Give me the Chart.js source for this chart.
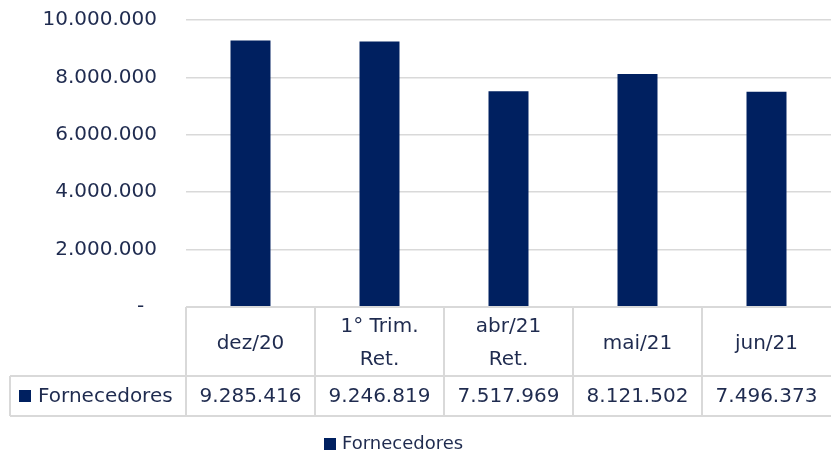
<!DOCTYPE html>
<html>
<head>
<meta charset="utf-8">
<script src="https://cdn.jsdelivr.net/npm/chart.js@4.4.1/dist/chart.umd.min.js"></script>
<style>
  html, body { margin: 0; padding: 0; background: #fff; }
  canvas { display: block; }
</style>
</head>
<body>
<canvas id="chart" width="831" height="452"></canvas>
<script>
// data
const categories = [['dez/20'], ['1° Trim.', 'Ret.'], ['abr/21', 'Ret.'], ['mai/21'], ['jun/21']];
const seriesName = 'Fornecedores';
const fornecedores = [9285416, 9246819, 7517969, 8121502, 7496373];
const yTicks = [0, 2000000, 4000000, 6000000, 8000000, 10000000];

const barColor = '#002060';
const textColor = '#1f2b4f';
const lineColor = '#d9d9d9';
const fontFamily = 'DejaVu Sans';

// 9285416 -> 9.285.416, zero shown as a dash like Excel
function formatNumber(v) {
    if (v === 0) return '-  ';
    return String(v).replace(/\B(?=(\d{3})+(?!\d))/g, '.');
}

// Draws the data table under the plot and the legend at the bottom
const dataTable = {
    id: 'dataTable',
    afterDraw(chart) {
        const ctx = chart.ctx;
        const area = chart.chartArea;
        const xScale = chart.scales.x;
        const colW = (area.right - area.left) / categories.length;

        const headTop = area.bottom;
        const headBottom = headTop + 69;
        const rowBottom = headBottom + 40;
        const tableLeft = 10;

        ctx.save();
        ctx.strokeStyle = lineColor;
        ctx.lineWidth = 2;
        ctx.beginPath();
        // horizontal lines
        ctx.moveTo(area.left, headTop); ctx.lineTo(area.right, headTop);
        ctx.moveTo(tableLeft, headBottom); ctx.lineTo(area.right, headBottom);
        ctx.moveTo(tableLeft, rowBottom); ctx.lineTo(area.right, rowBottom);
        // vertical lines (the right edge is cut off in the original)
        ctx.moveTo(tableLeft, headBottom); ctx.lineTo(tableLeft, rowBottom);
        for (let i = 0; i < categories.length; i++) {
            const x = area.left + i * colW;
            ctx.moveTo(x, headTop); ctx.lineTo(x, rowBottom);
        }
        ctx.stroke();

        ctx.fillStyle = textColor;
        ctx.textAlign = 'center';
        ctx.textBaseline = 'middle';
        ctx.font = '20px "' + fontFamily + '"';

        const headMid = (headTop + headBottom) / 2 + 2;
        const rowMid = (headBottom + rowBottom) / 2 + 1;
        const lineGap = 33;

        categories.forEach((lines, i) => {
            const cx = xScale.getPixelForValue(i);
            const y0 = headMid - (lines.length - 1) * lineGap / 2;
            lines.forEach((line, j) => {
                ctx.fillText(line, cx, y0 + j * lineGap);
            });
            ctx.fillText(formatNumber(fornecedores[i]), cx, rowMid);
        });

        // series key in the table
        ctx.fillStyle = barColor;
        ctx.fillRect(19, rowMid - 7, 12, 12);
        ctx.fillStyle = textColor;
        ctx.textAlign = 'left';
        ctx.fillText(seriesName, 38, rowMid);

        // legend
        ctx.fillStyle = barColor;
        ctx.fillRect(324, 438, 12, 12);
        ctx.fillStyle = textColor;
        ctx.font = '18px "' + fontFamily + '"';
        ctx.fillText(seriesName, 342, 444);
        ctx.restore();
    }
};

const ctx = document.getElementById('chart').getContext('2d');

new Chart(ctx, {
    type: 'bar',
    data: {
        labels: categories,
        datasets: [{
            label: seriesName,
            data: fornecedores,
            backgroundColor: barColor,
            categoryPercentage: 1,
            barPercentage: 0.31,
        }]
    },
    options: {
        responsive: false,
        animation: false,
        layout: {
            padding: { top: 20, right: 0, bottom: 145, left: 0 }
        },
        plugins: {
            legend: { display: false },
            tooltip: { enabled: false },
        },
        scales: {
            x: {
                display: false,
            },
            y: {
                min: yTicks[0],
                max: yTicks[yTicks.length - 1],
                border: { display: false },
                grid: {
                    color: lineColor,
                    lineWidth: 1.5,
                    drawTicks: false,
                },
                ticks: {
                    stepSize: yTicks[1] - yTicks[0],
                    padding: 29,
                    color: textColor,
                    font: { family: fontFamily, size: 20 },
                    callback: (value) => formatNumber(value),
                },
                afterFit(scale) {
                    scale.width = 186;
                    // tick padding would otherwise push the plot down
                    scale.paddingTop = 0;
                    scale.paddingBottom = 0;
                }
            }
        }
    },
    plugins: [dataTable]
});
</script>
</body>
</html>
